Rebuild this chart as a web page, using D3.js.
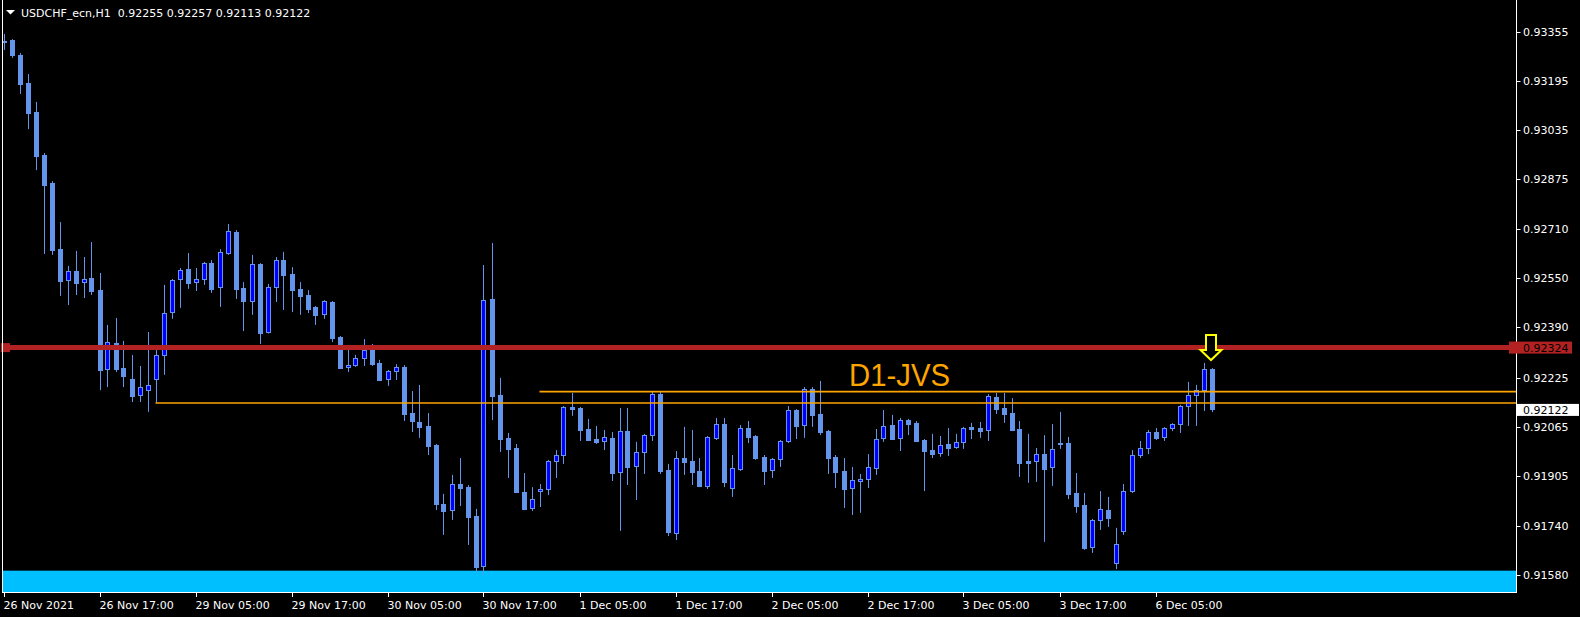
<!DOCTYPE html>
<html><head><meta charset="utf-8">
<script src="https://cdn.jsdelivr.net/npm/d3@7"></script>
<style>html,body{margin:0;padding:0;background:#000;overflow:hidden}svg{display:block}</style>
</head><body>
<svg id="c" width="1580" height="617"></svg>
<script>
const symbolTitle = "USDCHF_ecn,H1  0.92255 0.92257 0.92113 0.92122";
const opens = [0.93320,0.93329,0.93281,0.93189,0.93094,0.92953,0.92862,0.92646,0.92542,0.92574,0.92535,0.92552,0.92512,0.92251,0.92339,0.92257,0.92221,0.92166,0.92182,0.92218,
0.92297,0.92437,0.92545,0.92581,0.92536,0.92545,0.92601,0.92519,0.92630,0.92702,0.92519,0.92474,0.92597,0.92373,0.92519,0.92610,0.92565,0.92516,0.92496,0.92457,
0.92432,0.92473,0.92359,0.92258,0.92264,0.92287,0.92316,0.92274,0.92218,0.92244,0.92261,0.92110,0.92081,0.92068,0.92006,0.91813,0.91790,0.91878,0.91868,0.91774,
0.91607,0.92483,0.92169,0.92029,0.91996,0.91852,0.91797,0.91852,0.91859,0.91950,0.91970,0.92130,0.92127,0.92058,0.92025,0.92016,0.92029,0.91914,0.92051,0.91934,
0.91980,0.92035,0.92172,0.91924,0.91715,0.91963,0.91954,0.91921,0.91868,0.92025,0.92074,0.91862,0.91924,0.92061,0.92035,0.91967,0.91921,0.91957,0.92016,0.92120,
0.92068,0.92189,0.92107,0.92051,0.91967,0.91921,0.91862,0.91885,0.91891,0.91927,0.92025,0.92071,0.92025,0.92087,0.92078,0.92022,0.91989,0.91976,0.92009,0.91996,
0.92012,0.92065,0.92061,0.92051,0.92163,0.92127,0.92110,0.92058,0.91954,0.91950,0.91976,0.91931,0.92012,0.92012,0.91849,0.91810,0.91669,0.91757,0.91793,0.91617,
0.91721,0.91852,0.91970,0.91993,0.92048,0.92029,0.92058,0.92071,0.92130,0.92166,0.92182,0.92255];
const highs = [0.93349,0.93332,0.93287,0.93218,0.93127,0.92960,0.92868,0.92734,0.92591,0.92640,0.92620,0.92669,0.92568,0.92398,0.92421,0.92346,0.92300,0.92264,0.92375,0.92316,
0.92529,0.92548,0.92584,0.92633,0.92584,0.92604,0.92610,0.92646,0.92728,0.92708,0.92538,0.92627,0.92600,0.92532,0.92620,0.92637,0.92587,0.92538,0.92512,0.92460,
0.92479,0.92476,0.92362,0.92320,0.92300,0.92352,0.92336,0.92284,0.92251,0.92270,0.92267,0.92182,0.92202,0.92110,0.92009,0.91846,0.91908,0.91963,0.91875,0.91797,
0.92594,0.92666,0.92225,0.92045,0.92009,0.91914,0.91868,0.91878,0.91957,0.91989,0.92133,0.92176,0.92130,0.92091,0.92068,0.92055,0.92048,0.92127,0.92127,0.92016,
0.92042,0.92179,0.92179,0.91944,0.91986,0.92065,0.92055,0.91963,0.92035,0.92094,0.92094,0.91973,0.92071,0.92084,0.92038,0.91973,0.91963,0.92022,0.92133,0.92123,
0.92195,0.92195,0.92215,0.92055,0.91973,0.91963,0.91934,0.91911,0.91976,0.92058,0.92120,0.92104,0.92094,0.92091,0.92084,0.92025,0.92042,0.92035,0.92061,0.92042,
0.92065,0.92078,0.92081,0.92172,0.92176,0.92176,0.92159,0.92084,0.92042,0.91996,0.92038,0.92074,0.92114,0.92032,0.91914,0.91849,0.91764,0.91855,0.91836,0.91735,
0.91878,0.91989,0.92019,0.92055,0.92061,0.92064,0.92077,0.92137,0.92212,0.92202,0.92274,0.92257];
const lows = [0.93297,0.93271,0.93153,0.93038,0.92904,0.92630,0.92627,0.92493,0.92463,0.92496,0.92486,0.92496,0.92185,0.92195,0.92244,0.92195,0.92146,0.92146,0.92114,0.92143,
0.92235,0.92418,0.92454,0.92516,0.92509,0.92529,0.92503,0.92457,0.92627,0.92483,0.92378,0.92431,0.92336,0.92370,0.92473,0.92447,0.92440,0.92431,0.92437,0.92398,
0.92418,0.92342,0.92254,0.92244,0.92261,0.92264,0.92264,0.92215,0.92199,0.92218,0.92084,0.92048,0.92029,0.91973,0.91793,0.91712,0.91761,0.91806,0.91679,0.91587,
0.91581,0.92087,0.91983,0.91898,0.91849,0.91793,0.91790,0.91803,0.91842,0.91898,0.91944,0.92101,0.92019,0.92019,0.92009,0.91989,0.91888,0.91725,0.91875,0.91826,
0.91911,0.92019,0.91911,0.91708,0.91695,0.91908,0.91875,0.91868,0.91862,0.92022,0.91868,0.91836,0.91921,0.92012,0.91957,0.91875,0.91898,0.91934,0.92012,0.92025,
0.92029,0.92065,0.92038,0.91911,0.91865,0.91800,0.91777,0.91784,0.91865,0.91908,0.92016,0.92022,0.91986,0.92038,0.92016,0.91855,0.91963,0.91967,0.91970,0.91993,
0.91993,0.92025,0.92029,0.92019,0.92107,0.92078,0.92051,0.91901,0.91882,0.91885,0.91689,0.91872,0.91993,0.91829,0.91784,0.91663,0.91653,0.91728,0.91738,0.91600,
0.91712,0.91849,0.91963,0.91976,0.92022,0.92019,0.92051,0.92045,0.92068,0.92068,0.92117,0.92113];
const closes = [0.93326,0.93280,0.93185,0.93091,0.92950,0.92855,0.92643,0.92542,0.92574,0.92535,0.92548,0.92509,0.92251,0.92342,0.92254,0.92231,0.92166,0.92195,0.92202,0.92300,
0.92437,0.92545,0.92578,0.92535,0.92548,0.92601,0.92516,0.92637,0.92705,0.92516,0.92476,0.92597,0.92372,0.92522,0.92610,0.92561,0.92512,0.92493,0.92450,0.92431,
0.92476,0.92355,0.92257,0.92267,0.92290,0.92316,0.92270,0.92218,0.92248,0.92261,0.92107,0.92084,0.92065,0.92003,0.91813,0.91790,0.91878,0.91865,0.91770,0.91607,
0.92480,0.92166,0.92025,0.91993,0.91852,0.91797,0.91829,0.91862,0.91954,0.91973,0.92130,0.92123,0.92055,0.92022,0.92016,0.92032,0.91914,0.92051,0.91934,0.91983,
0.92038,0.92172,0.91921,0.91721,0.91963,0.91950,0.91917,0.91872,0.92032,0.92074,0.91885,0.91931,0.92061,0.92032,0.91963,0.91921,0.91960,0.92019,0.92120,0.92068,
0.92189,0.92104,0.92048,0.91963,0.91917,0.91862,0.91891,0.91895,0.91934,0.92025,0.92068,0.92025,0.92087,0.92074,0.92019,0.91986,0.91976,0.92006,0.91996,0.92016,
0.92061,0.92058,0.92051,0.92166,0.92123,0.92107,0.92055,0.91947,0.91947,0.91976,0.91927,0.91993,0.92009,0.91846,0.91806,0.91669,0.91761,0.91797,0.91767,0.91682,
0.91855,0.91973,0.91996,0.92048,0.92029,0.92061,0.92074,0.92133,0.92169,0.92185,0.92255,0.92122];

const priceTicks = [0.93355,0.93195,0.93035,0.92875,0.92710,0.92550,0.92390,0.92225,0.92065,0.91905,0.91740,0.91580];
const timeTickIndex = [0,12,24,36,48,60,72,84,96,108,120,132,144];
const timeTickLabels = ["26 Nov 2021","26 Nov 17:00","29 Nov 05:00","29 Nov 17:00","30 Nov 05:00","30 Nov 17:00","1 Dec 05:00","1 Dec 17:00","2 Dec 05:00","2 Dec 17:00","3 Dec 05:00","3 Dec 17:00","6 Dec 05:00"];

const resistanceLevel = 0.92324;
const currentPrice = 0.92122;
const orangeLevels = [0.92180, 0.92143];
const orangeStartIndex = [67, 19];
const zoneTop = 0.91595;
const annotationText = "D1-JVS";
const annotationIndex = 105.7;
const annotationPrice = 0.92200;
const arrowIndex = 151;
const arrowPrice = 0.92280;

const W = 1580, H = 617;
const plotLeft = 3, plotRight = 1516, plotBottom = 593;
const svg = d3.select("#c");
const n = opens.length;

const x = d3.scaleLinear().domain([0, n - 1]).range([3.5, 3.5 + 8 * (n - 1)]);
const y = d3.scaleLinear().domain([0.93460, 0.91522]).range([0, 593]);

const bull = "#0000FF", bear = "#6495ED";

svg.append("defs").append("clipPath").attr("id", "plot")
  .append("rect").attr("x", plotLeft).attr("y", 0).attr("width", plotRight - plotLeft).attr("height", plotBottom - 0.5);

const g = svg.append("g").attr("clip-path", "url(#plot)");

// support zone (background)
g.append("rect").attr("x", plotLeft).attr("width", plotRight - plotLeft)
  .attr("y", y(zoneTop)).attr("height", plotBottom - y(zoneTop))
  .attr("fill", "#00BFFF");

const idx = d3.range(n);
// wicks
g.selectAll("line.wick").data(idx).join("line").attr("class", "wick")
  .attr("x1", i => Math.round(x(i)) + 0.5).attr("x2", i => Math.round(x(i)) + 0.5)
  .attr("y1", i => y(highs[i])).attr("y2", i => y(lows[i]))
  .attr("stroke", bear).attr("stroke-width", 1);
// bodies
g.selectAll("rect.body").data(idx).join("rect").attr("class", "body")
  .each(function(i) {
    const c = Math.round(x(i)) + 0.5;
    const top = Math.round(y(Math.max(opens[i], closes[i])));
    const bot = Math.round(y(Math.min(opens[i], closes[i])));
    const up = closes[i] > opens[i];
    const hgt = Math.max(bot - top, 1);
    const r = d3.select(this);
    if (up) {
      r.attr("x", c - 2).attr("width", 4).attr("y", top + 0.5).attr("height", Math.max(hgt - 1, 0.5))
        .attr("fill", bull).attr("stroke", bear).attr("stroke-width", 1);
    } else {
      r.attr("x", c - 2.5).attr("width", 5).attr("y", top).attr("height", hgt + 1).attr("fill", bear);
    }
  });

// orange lines
g.selectAll("line.orange").data(orangeLevels).join("line").attr("class", "orange")
  .attr("x1", (d, k) => x(orangeStartIndex[k])).attr("x2", plotRight)
  .attr("y1", d => y(d)).attr("y2", d => y(d))
  .attr("stroke", "#FFA500").attr("stroke-width", 1.6);

// red resistance line
g.append("line").attr("x1", plotLeft).attr("x2", plotRight)
  .attr("y1", y(resistanceLevel)).attr("y2", y(resistanceLevel))
  .attr("stroke", "#B22222").attr("stroke-width", 5);
svg.append("rect").attr("x", 1).attr("y", y(resistanceLevel) - 4.5).attr("width", 9).attr("height", 9).attr("fill", "#B22222");

// annotation text
svg.append("text").attr("x", x(annotationIndex)).attr("y", y(annotationPrice))
  .attr("font-family", "Liberation Sans, Arial, sans-serif").attr("font-size", 32)
  .attr("textLength", 101).attr("lengthAdjust", "spacingAndGlyphs")
  .attr("fill", "#FFA500").text(annotationText);

// arrow
{
  const tx = x(arrowIndex) - 0.5, ty = y(arrowPrice) - 1;
  const pts = [[tx - 5, ty - 25], [tx + 5, ty - 25], [tx + 5, ty - 10], [tx + 10.5, ty - 10], [tx, ty], [tx - 10.5, ty - 10], [tx - 5, ty - 10]];
  svg.append("polygon").attr("points", pts.map(p => p.join(",")).join(" "))
    .attr("fill", "#000").attr("stroke", "#FFFF00").attr("stroke-width", 2).attr("stroke-linejoin", "miter");
}

// frame
svg.append("line").attr("x1", 2.5).attr("x2", 2.5).attr("y1", 0).attr("y2", plotBottom).attr("stroke", "#fff");
svg.append("line").attr("x1", plotRight + 0.5).attr("x2", plotRight + 0.5).attr("y1", 0).attr("y2", plotBottom).attr("stroke", "#fff");
svg.append("line").attr("x1", 2.5).attr("x2", plotRight + 0.5).attr("y1", plotBottom - 0.5).attr("y2", plotBottom - 0.5).attr("stroke", "#fff");

const font = "DejaVu Sans, sans-serif";
// right price axis
const pa = svg.append("g");
pa.selectAll("line").data(priceTicks).join("line")
  .attr("x1", plotRight + 0.5).attr("x2", plotRight + 4.5)
  .attr("y1", d => Math.round(y(d)) + 0.5).attr("y2", d => Math.round(y(d)) + 0.5).attr("stroke", "#fff");
pa.selectAll("text").data(priceTicks).join("text")
  .attr("x", 1523).attr("y", d => y(d) + 4).attr("fill", "#fff")
  .attr("font-family", font).attr("font-size", 11).text(d => d.toFixed(5));

// red price tag
svg.append("rect").attr("x", 1509).attr("y", y(resistanceLevel) - 6).attr("width", 63).attr("height", 12).attr("fill", "#B22222");
svg.append("text").attr("x", 1523).attr("y", y(resistanceLevel) + 4).attr("fill", "#000")
  .attr("font-family", font).attr("font-size", 11).text(resistanceLevel.toFixed(5));
// current price tag
svg.append("rect").attr("x", 1517).attr("y", y(currentPrice) - 5.5).attr("width", 62).attr("height", 12).attr("fill", "#fff");
svg.append("text").attr("x", 1523).attr("y", y(currentPrice) + 4.5).attr("fill", "#000")
  .attr("font-family", font).attr("font-size", 11).text(currentPrice.toFixed(5));

// time axis
const ta = svg.append("g");
ta.selectAll("line").data(timeTickIndex).join("line")
  .attr("x1", i => Math.round(x(i)) + 0.5).attr("x2", i => Math.round(x(i)) + 0.5)
  .attr("y1", plotBottom).attr("y2", plotBottom + 4).attr("stroke", "#fff");
ta.selectAll("text").data(timeTickIndex).join("text")
  .attr("x", i => Math.round(x(i)) - 0.5).attr("y", 609).attr("fill", "#fff")
  .attr("font-family", font).attr("font-size", 11).text((i, k) => timeTickLabels[k]);

// title
svg.append("polygon").attr("points", "6,10 15,10 10.5,14.5").attr("fill", "#fff");
svg.append("text").attr("x", 21).attr("y", 16.5).attr("fill", "#fff")
  .attr("font-family", font).attr("font-size", 11).attr("xml:space", "preserve").style("white-space", "pre").text(symbolTitle);
</script>
</body></html>
